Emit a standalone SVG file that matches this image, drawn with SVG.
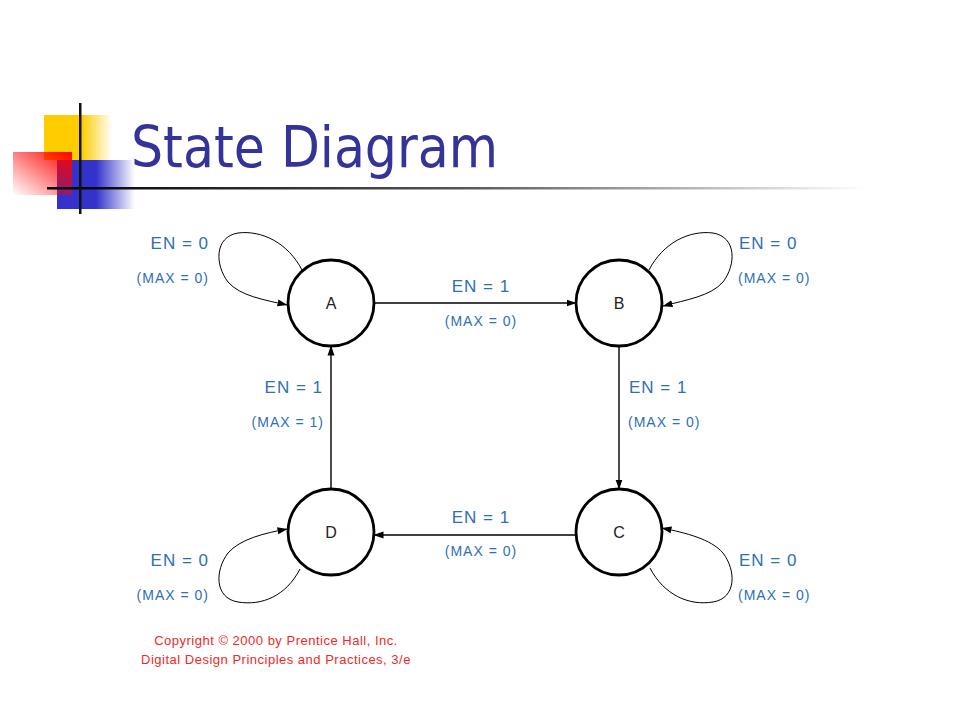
<svg xmlns="http://www.w3.org/2000/svg" width="960" height="720" viewBox="0 0 960 720">
<defs>
<style>
.state{fill:#fff;stroke:#000;stroke-width:2.8}
.sl{font-family:"Liberation Sans",Arial,sans-serif;font-size:16px;fill:#222}
.en{font-family:"Liberation Sans",Arial,sans-serif;font-size:17px;letter-spacing:1px;fill:#2f6fb5}
.mx{font-family:"Liberation Sans",Arial,sans-serif;font-size:14px;letter-spacing:1px;fill:#2f6fb5}
.edge{fill:none;stroke:#000;stroke-width:1.4}
.loop{fill:none;stroke:#000;stroke-width:1}
.cp{font-family:"Liberation Sans",Arial,sans-serif;font-size:13px;letter-spacing:0.5px;fill:#ee2a2a}
</style>
<marker id="ah" viewBox="0 0 10 8" refX="9.5" refY="4" markerWidth="10" markerHeight="8" markerUnits="userSpaceOnUse" orient="auto">
<path d="M0,0.5 L10,4 L0,7.5 Z" fill="#000"/>
</marker>
<linearGradient id="gy" x1="0" y1="0" x2="1" y2="0">
<stop offset="0" stop-color="#ffcc00"/><stop offset="0.55" stop-color="#ffcc00"/><stop offset="1" stop-color="#ffcc00" stop-opacity="0"/>
</linearGradient>
<linearGradient id="gb" x1="0" y1="0" x2="1" y2="0">
<stop offset="0" stop-color="#3333cc"/><stop offset="0.5" stop-color="#3333cc"/><stop offset="1" stop-color="#3333cc" stop-opacity="0"/>
</linearGradient>
<linearGradient id="gr" x1="1" y1="0" x2="0" y2="1">
<stop offset="0" stop-color="#ff0000"/><stop offset="1" stop-color="#ff0000" stop-opacity="0"/>
</linearGradient>
<linearGradient id="gl" x1="0" y1="0" x2="1" y2="0">
<stop offset="0" stop-color="#000"/><stop offset="0.5" stop-color="#555"/><stop offset="1" stop-color="#fff"/>
</linearGradient>
</defs>
<rect width="960" height="720" fill="#fff"/>
<g id="decoration">
<rect x="44" y="115" width="68" height="45" fill="url(#gy)"/>
<rect x="57" y="160" width="78" height="49" fill="url(#gb)"/>
<rect x="13" y="152" width="59" height="43" fill="url(#gr)"/>
<rect x="47" y="187" width="820" height="2.5" fill="url(#gl)"/>
<rect x="79" y="103" width="2.5" height="111" fill="#111"/>
</g>
<text x="131" y="167" font-family="'DejaVu Sans Condensed','DejaVu Sans',Verdana,sans-serif" font-size="57" fill="#333399" textLength="367" lengthAdjust="spacingAndGlyphs">State Diagram</text>
<g id="connectors">
<line class="edge" x1="374" y1="303" x2="576" y2="303" marker-end="url(#ah)"/>
<line class="edge" x1="619" y1="346" x2="619" y2="489" marker-end="url(#ah)"/>
<line class="edge" x1="576" y1="535" x2="374" y2="535" marker-end="url(#ah)"/>
<line class="edge" x1="331" y1="489" x2="331" y2="346" marker-end="url(#ah)"/>
<path class="loop" d="M302,270 C288,243 262,230 238,233 C214,237 215,265 228,282 C240,296 265,300 287,305" marker-end="url(#ah)"/>
<path class="loop" d="M649,270 C663,243 689,230 713,233 C737,237 736,265 723,282 C711,296 686,300 663,306" marker-end="url(#ah)"/>
<path class="loop" d="M650,568 C664,595 689,606 713,602 C737,598 736,570 723,553 C711,539 686,533 662,528" marker-end="url(#ah)"/>
<path class="loop" d="M300,569 C286,596 262,606 238,602 C214,598 215,570 228,553 C240,539 265,533 287,529" marker-end="url(#ah)"/>
</g>
<g id="A"><circle class="state" cx="331" cy="303" r="43"/><text class="sl" x="331" y="309" text-anchor="middle">A</text></g>
<g id="B"><circle class="state" cx="619" cy="303" r="43"/><text class="sl" x="619" y="309" text-anchor="middle">B</text></g>
<g id="C"><circle class="state" cx="619" cy="532" r="43"/><text class="sl" x="619" y="538" text-anchor="middle">C</text></g>
<g id="D"><circle class="state" cx="331" cy="532" r="43"/><text class="sl" x="331" y="538" text-anchor="middle">D</text></g>
<g id="labels">
<text class="en" x="209" y="249" text-anchor="end">EN = 0</text>
<text class="mx" x="209" y="283" text-anchor="end">(MAX = 0)</text>
<text class="en" x="481" y="292" text-anchor="middle">EN = 1</text>
<text class="mx" x="481" y="326" text-anchor="middle">(MAX = 0)</text>
<text class="en" x="739" y="249">EN = 0</text>
<text class="mx" x="738" y="283">(MAX = 0)</text>
<text class="en" x="629" y="393">EN = 1</text>
<text class="mx" x="628" y="427">(MAX = 0)</text>
<text class="en" x="323" y="393" text-anchor="end">EN = 1</text>
<text class="mx" x="324" y="427" text-anchor="end">(MAX = 1)</text>
<text class="en" x="481" y="523" text-anchor="middle">EN = 1</text>
<text class="mx" x="481" y="556" text-anchor="middle">(MAX = 0)</text>
<text class="en" x="209" y="566" text-anchor="end">EN = 0</text>
<text class="mx" x="209" y="600" text-anchor="end">(MAX = 0)</text>
<text class="en" x="739" y="566">EN = 0</text>
<text class="mx" x="738" y="600">(MAX = 0)</text>
</g>
<text class="cp" x="276" y="645" text-anchor="middle">Copyright © 2000 by Prentice Hall, Inc.</text>
<text class="cp" x="276" y="664" text-anchor="middle">Digital Design Principles and Practices, 3/e</text>
</svg>
